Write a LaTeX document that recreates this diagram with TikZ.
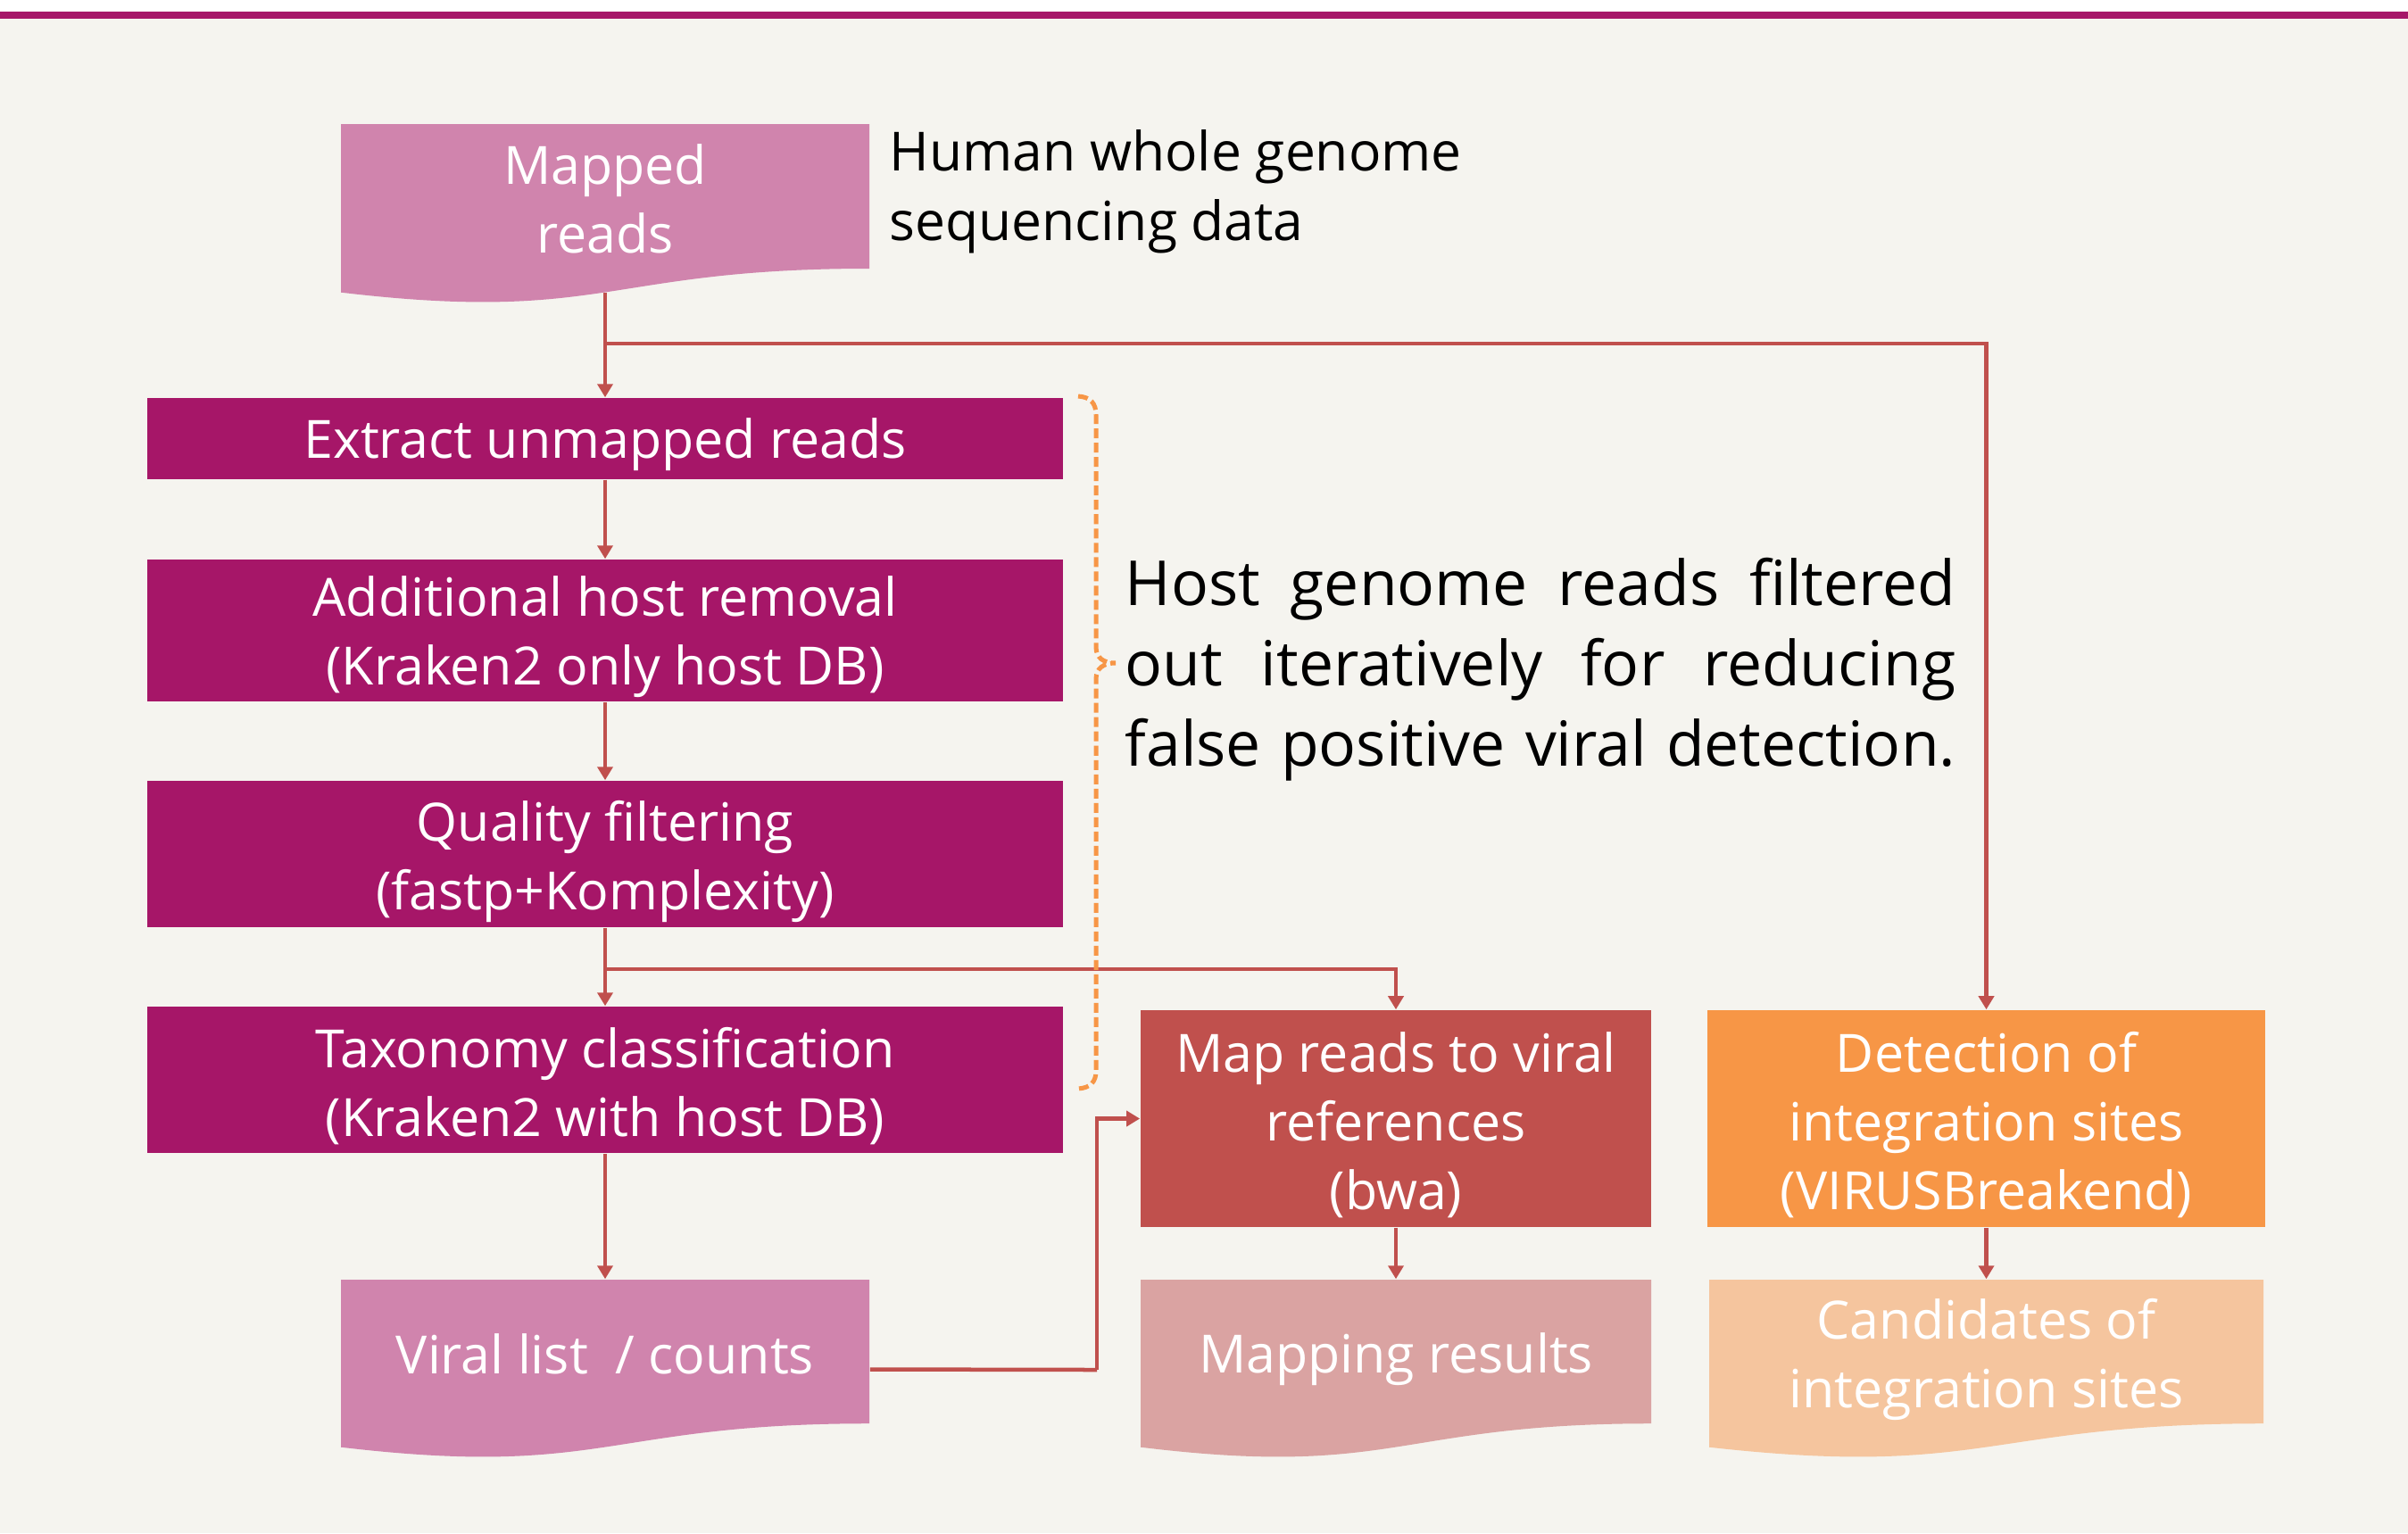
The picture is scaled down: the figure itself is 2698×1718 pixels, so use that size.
\documentclass[tikz,border=0pt]{standalone}
\usepackage{fontspec}
\setmainfont{Open Sans}
\usetikzlibrary{arrows.meta}

\definecolor{pagebg}{HTML}{F5F4EF}
\definecolor{plum}{HTML}{A61668}
\definecolor{docpink}{HTML}{D084AD}
\definecolor{connred}{HTML}{C0504D}
\definecolor{maprose}{HTML}{DAA3A2}
\definecolor{tangerine}{HTML}{F79646}
\definecolor{peach}{HTML}{F5C59E}

\tikzset{
  boxfont/.style={font=\fontsize{16.8pt}{21.9pt}\selectfont},
  procbox/.style={rectangle, inner sep=0pt},
  proctext/.style={inner sep=0pt, text=white, align=center, boxfont},
  docbox/.style={rectangle, inner sep=0pt, minimum width=5.92cm, minimum height=2.01cm},
  doctext/.style={inner sep=0pt, text=white, align=center, boxfont},
  conn/.style={draw=connred, line width=0.045cm, -{Triangle[width=0.17cm,length=0.15cm]}},
  brace/.style={draw=tangerine, line width=0.05cm, dash pattern=on 0.11cm off 0.05cm},
}

\begin{document}
\begin{tikzpicture}[x=0.01cm, y=-0.01cm]
\useasboundingbox (0,0) rectangle (2698,1718);
% page background and top rule
\fill[pagebg] (0,0) rectangle (2698,1718);
\fill[white] (0,0) rectangle (2698,12.5);
\fill[plum] (0,12.5) rectangle (2698,20.5);

% document shapes (wavy bottom edge)
\fill[docpink] (382,139) -- (974,139) -- (974,301)
  .. controls (678,301) and (678,362.7) .. (382,327.7) -- cycle;
\fill[docpink] (382,1434) -- (974,1434) -- (974,1595.2)
  .. controls (678,1595.2) and (678,1656.6) .. (382,1621.7) -- cycle;
\fill[maprose] (1278,1434) -- (1850,1434) -- (1850,1595.2)
  .. controls (1564,1595.2) and (1564,1656.6) .. (1278,1621.7) -- cycle;
\fill[peach] (1915,1434) -- (2536,1434) -- (2536,1595.2)
  .. controls (2225.5,1595.2) and (2225.5,1656.6) .. (1915,1621.7) -- cycle;

% outline boxes of the documents (for connector anchors)
\node[docbox] (mapped) at (678,240) {};
\node[docbox] (viral) at (678,1534.5) {};
\node[docbox, minimum width=5.72cm] (mapres) at (1564,1534.5) {};
\node[docbox, minimum width=6.21cm] (cand) at (2225.5,1534.5) {};
\coordinate (mapped-b) at (678,327.5);

\node[doctext] (mapped-t) at (678,223) {Mapped\\reads};
\node[doctext] (viral-t) at (678,1517) {Viral list\ \ / counts};
\node[doctext] (mapres-t) at (1564,1523) {Mapping results};
\node[doctext] (cand-t) at (2225.5,1523) {Candidates of\\integration sites};

% process steps
\node[procbox, fill=plum, minimum width=10.26cm, minimum height=0.91cm] (extract) at (678,491.5) {};
\node[procbox, fill=plum, minimum width=10.26cm, minimum height=1.59cm] (additional) at (678,706.5) {};
\node[procbox, fill=plum, minimum width=10.26cm, minimum height=1.64cm] (quality) at (678,957) {};
\node[procbox, fill=plum, minimum width=10.26cm, minimum height=1.64cm] (taxonomy) at (678,1210) {};
\node[procbox, fill=connred, minimum width=5.72cm, minimum height=2.43cm] (map) at (1564,1253.5) {};
\node[procbox, fill=tangerine, minimum width=6.25cm, minimum height=2.43cm] (detect) at (2225.5,1253.5) {};

\node[proctext] (extract-t) at ([yshift=-0.07cm]extract.center) {Extract unmapped reads};
\node[proctext] (additional-t) at ([yshift=-0.07cm]additional.center) {Additional host removal\\(Kraken2 only host DB)};
\node[proctext] (quality-t) at ([yshift=-0.08cm]quality.center) {Quality filtering\\(fastp+Komplexity)};
\node[proctext] (taxonomy-t) at ([yshift=-0.07cm]taxonomy.center) {Taxonomy classification\\(Kraken2 with host DB)};
\node[proctext] (map-t) at ([yshift=-0.07cm]map.center) {Map reads to viral\\references\\(bwa)};
\node[proctext] (detect-t) at ([yshift=-0.07cm]detect.center) {Detection of\\integration sites\\(VIRUSBreakend)};

% annotations
\node[inner sep=0pt, anchor=west, align=left, font=\fontsize{17.2pt}{22.2pt}\selectfont] (source) at (996,215) {Human whole genome\\sequencing data};
\node[inner sep=0pt, align=left, font=\fontsize{19.8pt}{25.6pt}\selectfont] (note) at (1726,750)
  {\makebox[9.3cm][s]{Host genome reads filtered}\\
   \makebox[9.3cm][s]{out iteratively for reducing}\\
   \makebox[9.3cm][s]{false positive viral detection.}};

% connectors
\coordinate (fork1) at (678,385);
\coordinate (fork2) at (678,1086);
\coordinate (bend) at (1229,1535);
\draw[conn] (mapped-b) -- (extract.north);
\draw[conn] (fork1) -| (detect.north);
\draw[conn] (extract.south) -- (additional.north);
\draw[conn] (additional.south) -- (quality.north);
\draw[conn] (quality.south) -- (taxonomy.north);
\draw[conn] (fork2) -| (map.north);
\draw[conn] (taxonomy.south) -- (viral.north);
\draw[conn, -] (viral.east) -- (bend);
\draw[conn] (bend) |- (map.west);
\draw[conn] (map.south) -- (mapres.north);
\draw[conn] (detect.south) -- (cand.north);

% dashed brace grouping the host-filtering steps
\draw[brace] (1208,444) .. controls (1222,445) and (1228,452) .. (1228,465)
  -- (1228,725) .. controls (1228,737) and (1236,743) .. (1250,743)
  .. controls (1236,743) and (1228,749) .. (1228,761)
  -- (1228,1200) .. controls (1228,1212) and (1222,1219) .. (1208,1220);
\end{tikzpicture}
\end{document}
